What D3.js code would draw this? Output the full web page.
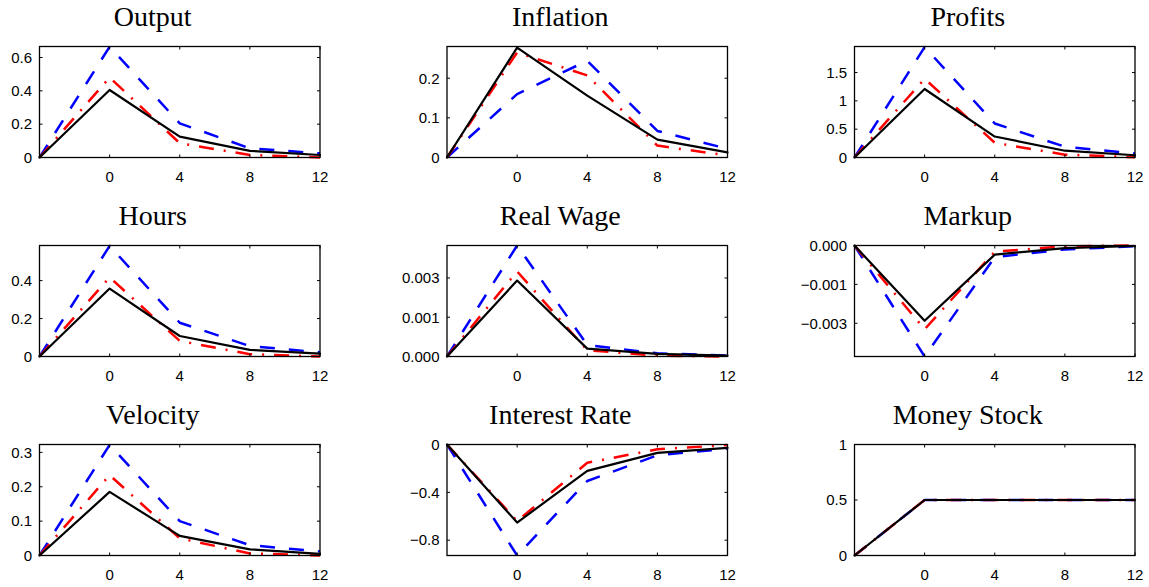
<!DOCTYPE html>
<html>
<head>
<meta charset="utf-8">
<script src="https://cdn.jsdelivr.net/npm/d3@7"></script>
<style>
  html, body { margin: 0; padding: 0; background: #fff; }
  svg { display: block; }
</style>
</head>
<body>
<svg id="chart" width="1149" height="587"></svg>
<script>
// ---------------- DATA ----------------
const horizons = [-4, 0, 4, 8, 12];
const xTickValues = [0, 4, 8, 12];
const xTickLabels = ["0", "4", "8", "12"];

const titles = ["Output", "Inflation", "Profits", "Hours", "Real Wage", "Markup", "Velocity", "Interest Rate", "Money Stock"];

// series per panel: solid (black), dash-dot (red), dashed (blue)
const outputSolid   = [0, 0.405, 0.125, 0.040, 0.015];
const outputDashDot = [0, 0.480, 0.086, 0.015, 0.000];
const outputDashed  = [0, 0.665, 0.205, 0.055, 0.025];

const inflationSolid   = [0, 0.277, 0.156, 0.045, 0.013];
const inflationDashDot = [0, 0.265, 0.207, 0.030, 0.005];
const inflationDashed  = [0, 0.160, 0.244, 0.067, 0.022];

const profitsSolid   = [0, 1.21, 0.37, 0.12, 0.04];
const profitsDashDot = [0, 1.39, 0.26, 0.05, 0.005];
const profitsDashed  = [0, 1.95, 0.60, 0.19, 0.07];

const hoursSolid   = [0, 0.358, 0.108, 0.035, 0.015];
const hoursDashDot = [0, 0.417, 0.082, 0.012, 0.000];
const hoursDashed  = [0, 0.583, 0.178, 0.055, 0.022];

const realWageSolid   = [0, 0.00290, 0.00030, 0.00010, 0.00003];
const realWageDashDot = [0, 0.00325, 0.00024, 0.00003, 0.00000];
const realWageDashed  = [0, 0.00424, 0.00044, 0.00012, 0.00004];

const markupSolid   = [0, -0.00290, -0.00035, -0.00010, -0.00002];
const markupDashDot = [0, -0.00323, -0.00024, -0.00003, 0.00000];
const markupDashed  = [0, -0.00428, -0.00045, -0.00015, -0.00003];

const velocitySolid   = [0, 0.185, 0.057, 0.018, 0.005];
const velocityDashDot = [0, 0.234, 0.050, 0.006, 0.000];
const velocityDashed  = [0, 0.322, 0.100, 0.030, 0.012];

const interestSolid   = [0, -0.653, -0.220, -0.070, -0.028];
const interestDashDot = [0, -0.640, -0.153, -0.040, -0.005];
const interestDashed  = [0, -0.928, -0.305, -0.090, -0.035];

const moneySolid   = [0, 0.5, 0.5, 0.5, 0.5];
const moneyDashDot = [0, 0.5, 0.5, 0.5, 0.5];
const moneyDashed  = [0, 0.5, 0.5, 0.5, 0.5];

// y domains and ticks per panel
const yDomains = [
  [0, 0.666], [0, 0.280], [0, 1.96],
  [0, 0.585], [0, 0.00424], [-0.00428, 0],
  [0, 0.323], [-0.928, 0], [0, 1.0]
];
const yTickValues = [
  [0, 0.2, 0.4, 0.6], [0, 0.1, 0.2], [0, 0.5, 1, 1.5],
  [0, 0.2, 0.4], [0, 0.0015, 0.003], [-0.003, -0.0015, 0],
  [0, 0.1, 0.2, 0.3], [-0.8, -0.4, 0], [0, 0.5, 1]
];
const yTickLabels = [
  ["0", "0.2", "0.4", "0.6"], ["0", "0.1", "0.2"], ["0", "0.5", "1", "1.5"],
  ["0", "0.2", "0.4"], ["0.000", "0.001", "0.003"], ["\u22120.003", "\u22120.001", "0.000"],
  ["0", "0.1", "0.2", "0.3"], ["\u22120.8", "\u22120.4", "0"], ["0", "0.5", "1"]
];

const panelSeries = [
  [outputSolid, outputDashDot, outputDashed],
  [inflationSolid, inflationDashDot, inflationDashed],
  [profitsSolid, profitsDashDot, profitsDashed],
  [hoursSolid, hoursDashDot, hoursDashed],
  [realWageSolid, realWageDashDot, realWageDashed],
  [markupSolid, markupDashDot, markupDashed],
  [velocitySolid, velocityDashDot, velocityDashed],
  [interestSolid, interestDashDot, interestDashed],
  [moneySolid, moneyDashDot, moneyDashed]
];

// ---------------- LAYOUT / STYLE ----------------
const colLeft = [39.5, 447, 854.5];
const rowTop = [46.5, 245.5, 444.5];
const boxW = 280.5;
const boxH = 111;
const tickLen = 3;
const tickFont = 15;

const styles = [
  { color: "#000000", width: 2.2, dash: null,            cap: "round" }, // solid
  { color: "#ff0000", width: 2.5, dash: "15,10,2,10",    cap: "butt" },  // dash-dot
  { color: "#0000ff", width: 2.5, dash: "15,14",         cap: "butt" }   // dashed
];
const drawOrder = [2, 1, 0];

const svg = d3.select("#chart");

titles.forEach((title, i) => {
  const r = Math.floor(i / 3), c = i % 3;
  const left = colLeft[c], top = rowTop[r];
  const g = svg.append("g");

  const x = d3.scaleLinear().domain([horizons[0], horizons[horizons.length - 1]]).range([left, left + boxW]);
  const y = d3.scaleLinear().domain(yDomains[i]).range([top + boxH, top]);

  // title
  g.append("text")
    .attr("x", left + boxW / 2 - 27)
    .attr("y", top - 21)
    .attr("text-anchor", "middle")
    .attr("font-family", "'Liberation Serif', 'Times New Roman', serif")
    .attr("font-size", 28)
    .attr("fill", "#000")
    .text(title);

  // lines
  const line = d3.line().x((d, k) => x(horizons[k])).y(d => y(d));
  drawOrder.forEach(s => {
    const st = styles[s];
    const p = g.append("path")
      .datum(panelSeries[i][s])
      .attr("d", line)
      .attr("fill", "none")
      .attr("stroke", st.color)
      .attr("stroke-width", st.width)
      .attr("stroke-linejoin", "round")
      .attr("stroke-linecap", st.cap);
    if (st.dash) p.attr("stroke-dasharray", st.dash);
  });

  // box
  g.append("rect")
    .attr("x", left).attr("y", top)
    .attr("width", boxW).attr("height", boxH)
    .attr("fill", "none")
    .attr("stroke", "#000")
    .attr("stroke-width", 1.3);

  // x ticks (inward, bottom and top) + labels
  xTickValues.forEach((tv, k) => {
    const xp = x(tv);
    g.append("line").attr("x1", xp).attr("x2", xp)
      .attr("y1", top + boxH).attr("y2", top + boxH - tickLen)
      .attr("stroke", "#000").attr("stroke-width", 1);
    g.append("line").attr("x1", xp).attr("x2", xp)
      .attr("y1", top).attr("y2", top + tickLen)
      .attr("stroke", "#000").attr("stroke-width", 1);
    g.append("text")
      .attr("x", xp).attr("y", top + boxH + 24)
      .attr("text-anchor", "middle")
      .attr("font-family", "'Liberation Sans', Arial, Helvetica, sans-serif")
      .attr("font-size", tickFont)
      .attr("fill", "#000")
      .text(xTickLabels[k]);
  });

  // y ticks (inward, left and right) + labels
  yTickValues[i].forEach((tv, k) => {
    const yp = y(tv);
    g.append("line").attr("x1", left).attr("x2", left + tickLen)
      .attr("y1", yp).attr("y2", yp)
      .attr("stroke", "#000").attr("stroke-width", 1);
    g.append("line").attr("x1", left + boxW).attr("x2", left + boxW - tickLen)
      .attr("y1", yp).attr("y2", yp)
      .attr("stroke", "#000").attr("stroke-width", 1);
    g.append("text")
      .attr("x", left - 7.5).attr("y", yp + 5.3)
      .attr("text-anchor", "end")
      .attr("font-family", "'Liberation Sans', Arial, Helvetica, sans-serif")
      .attr("font-size", tickFont)
      .attr("fill", "#000")
      .text(yTickLabels[i][k]);
  });
});
</script>
</body>
</html>
